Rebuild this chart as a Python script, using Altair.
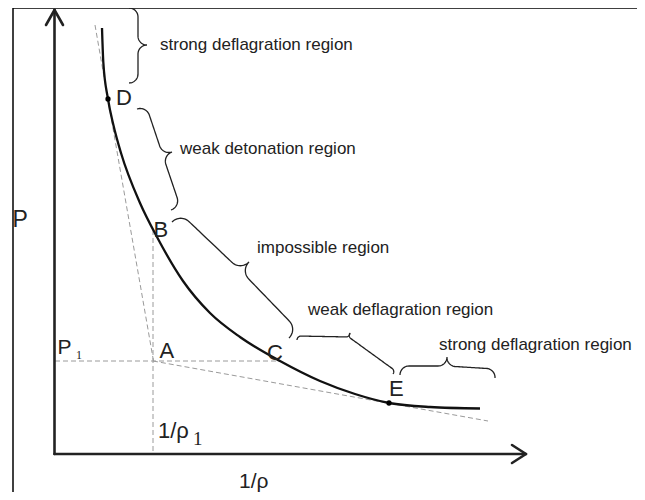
import altair as alt
import pandas as pd
import numpy as np

# ---- All coordinates are in the reference picture's pixel frame (y grows downward) ----

# Hugoniot curve samples
curve_x = [102, 103.3, 108, 113.4, 121, 140, 157, 183, 210, 240, 280, 320, 355, 389, 430, 480]
curve_y = [28, 62, 99, 125, 153, 203, 237, 281, 313, 337, 361, 381, 394, 403, 407, 408.5]

# tangent points D and E
dot_x = [108, 389]
dot_y = [99, 403]

# dashed helper lines (Rayleigh lines, P1 level, 1/rho1 level)
dash_x0 = [95, 153, 55, 153]
dash_y0 = [25, 361, 361, 230]
dash_x1 = [153.5, 488, 279, 153]
dash_y1 = [361, 421, 361, 454]

# axes with open arrow heads
axis_x0 = [54.5, 54.5, 46, 54.5, 512, 526]
axis_y0 = [454, 454, 25, 10, 445, 454]
axis_x1 = [54.5, 525, 54.5, 63, 526, 512]
axis_y1 = [10.5, 454, 10, 25, 454, 463]

# picture frame (top and left edges)
frame_x0 = [13, 13]
frame_y0 = [8, 8]
frame_x1 = [645, 13]
frame_y1 = [8, 500]

# curly braces: end 1, tip, end 2, depth
brace_x1 = [129, 137, 172, 297, 400]
brace_y1 = [8, 109, 222, 340, 375]
brace_tx = [147, 172, 249, 350, 447]
brace_ty = [45, 152, 262, 333, 357]
brace_x2 = [129, 171, 289, 393, 495]
brace_y2 = [83, 210, 338, 374, 378]
brace_h = [18, 19.5, 24, 8, 18]

# region labels
region_text = ["strong deflagration region", "weak detonation region", "impossible region",
               "weak deflagration region", "strong deflagration region"]
region_x = [160, 180, 257, 308, 439]
region_y = [50, 154, 253, 315, 350]

# point / axis letters
letter_text = ["D", "B", "A", "C", "E", "P", "P", "1/ρ", "1/ρ"]
letter_x = [116, 153.5, 159.5, 267, 389, 12.5, 57.5, 158, 239]
letter_y = [105, 237, 358, 359.5, 396, 227, 354, 438, 488]
letter_size = [22, 22, 22, 22, 22, 23, 21, 22, 21]

# serif subscripts
sub_text = ["1", "1"]
sub_x = [76, 193]
sub_y = [359, 445]
sub_size = [12, 19]


def rot(v, a):
    c, s = np.cos(a), np.sin(a)
    return np.array([c * v[0] - s * v[1], s * v[0] + c * v[1]])


def brace_path(p1, tip, p2, h, n=60):
    p1, tip, p2 = np.array(p1, float), np.array(tip, float), np.array(p2, float)
    ax = p2 - p1
    ax /= np.linalg.norm(ax)
    nv = np.array([ax[1], -ax[0]])
    if np.dot(nv, tip - (p1 + p2) / 2) < 0:
        nv = -nv
    halves = []
    for e in (p1, p2):
        c = tip - e
        L = np.linalg.norm(c)
        th = np.arcsin(min(h / L, 0.95))
        hh = L * np.sin(th)
        l = L * np.cos(th)
        for sg in (1, -1):
            u = rot(c / L, sg * th)
            nn = (c - l * u) / hh
            if np.dot(nn, nv) > 0:
                break
        r = hh / 2
        a = min(r, l / 2)
        t = np.linspace(0, 1, n)
        s = l * (0.5 - 0.5 * np.cos(np.pi * t))
        o = np.where(
            s < a, r * np.sqrt(np.clip(1 - (1 - s / a) ** 2, 0, 1)),
            np.where(s > l - a,
                     r + r * (1 - np.sqrt(np.clip(1 - ((s - (l - a)) / a) ** 2, 0, 1))),
                     r))
        pts = e[None, :] + s[:, None] * u[None, :] + o[:, None] * nn[None, :]
        halves.append(pts)
    return np.vstack([halves[0], halves[1][::-1]])


rows = []
for i in range(len(brace_x1)):
    pts = brace_path((brace_x1[i], brace_y1[i]), (brace_tx[i], brace_ty[i]),
                     (brace_x2[i], brace_y2[i]), brace_h[i])
    for k, (px, py) in enumerate(pts):
        rows.append({"b": i, "k": k, "x": px, "y": py})
brace_df = pd.DataFrame(rows)

curve_df = pd.DataFrame({"x": curve_x, "y": curve_y})
dot_df = pd.DataFrame({"x": dot_x, "y": dot_y})
dash_df = pd.DataFrame({"x": dash_x0, "y": dash_y0, "x2": dash_x1, "y2": dash_y1})
axis_df = pd.DataFrame({"x": axis_x0, "y": axis_y0, "x2": axis_x1, "y2": axis_y1})
frame_df = pd.DataFrame({"x": frame_x0, "y": frame_y0, "x2": frame_x1, "y2": frame_y1})
region_df = pd.DataFrame({"t": region_text, "x": region_x, "y": region_y})
letter_df = pd.DataFrame({"t": letter_text, "x": letter_x, "y": letter_y, "s": letter_size})
sub_df = pd.DataFrame({"t": sub_text, "x": sub_x, "y": sub_y, "s": sub_size})

# the page has an 8px margin: the chart covers picture pixels 8..637 and 8..492
W, H = 629, 484
xs = alt.Scale(domain=[8, 8 + W], nice=False, zero=False)
ys = alt.Scale(domain=[8, 8 + H], nice=False, zero=False, reverse=True)
X = alt.X("x:Q", scale=xs, axis=None)
Y = alt.Y("y:Q", scale=ys, axis=None)

frame = alt.Chart(frame_df).mark_rule(color="#000", strokeWidth=1.5, clip=True).encode(
    x=X, y=Y, x2="x2:Q", y2="y2:Q")
dash = alt.Chart(dash_df).mark_rule(color="#9a9a9a", strokeWidth=1, strokeDash=[5, 3]).encode(
    x=X, y=Y, x2="x2:Q", y2="y2:Q")
axes = alt.Chart(axis_df).mark_rule(color="#222", strokeWidth=2.6, strokeCap="round").encode(
    x=X, y=Y, x2="x2:Q", y2="y2:Q")
curve = alt.Chart(curve_df).mark_line(color="#111", strokeWidth=2.3, interpolate="monotone").encode(
    x=X, y=Y, order="x:Q")
braces = alt.Chart(brace_df).mark_line(color="#222", strokeWidth=1.3).encode(
    x=X, y=Y, detail="b:N", order="k:Q")
dots = alt.Chart(dot_df).mark_circle(color="#000", size=28, opacity=1).encode(x=X, y=Y)
regions = alt.Chart(region_df).mark_text(
    align="left", baseline="alphabetic", font="Liberation Sans", fontSize=17, color="#222"
).encode(x=X, y=Y, text="t:N")
letters = alt.Chart(letter_df).mark_text(
    align="left", baseline="alphabetic", font="Liberation Sans", color="#222"
).encode(x=X, y=Y, text="t:N", size=alt.Size("s:Q", scale=None, legend=None))
subs = alt.Chart(sub_df).mark_text(
    align="left", baseline="alphabetic", font="Liberation Serif", color="#222"
).encode(x=X, y=Y, text="t:N", size=alt.Size("s:Q", scale=None, legend=None))

chart = alt.layer(frame, dash, axes, curve, braces, dots, regions, letters, subs).properties(
    width=W, height=H, padding=0, autosize=alt.AutoSizeParams(type="none"),
    background="white"
).configure_view(strokeWidth=0)

chart.save("out.html", embed_options={"renderer": "svg", "actions": False})
